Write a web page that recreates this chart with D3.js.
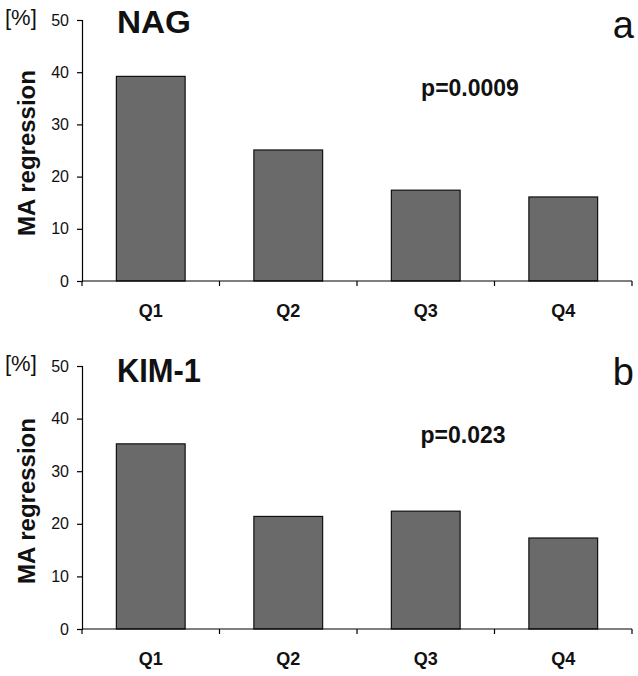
<!DOCTYPE html>
<html><head><meta charset="utf-8">
<script src="https://cdn.jsdelivr.net/npm/d3@7"></script>
<style>body{margin:0;background:#fff}svg{display:block}text{font-family:"Liberation Sans",Arial,sans-serif}</style>
</head><body>
<script>
const categories = ["Q1","Q2","Q3","Q4"];
const nagValues = [39.2, 25.1, 17.4, 16.1];
const kimValues = [35.2, 21.4, 22.4, 17.3];
const yTicks = [0,10,20,30,40,50];
const panels = [
  {title:"NAG", titleLen:74, titleSize:32, letter:"a", p:"p=0.0009", values:nagValues,
   top:20, bottom:281, pX:470, pY:96, titleY:33, letterY:38, pctY:25, labY:153},
  {title:"KIM-1", titleLen:84, titleSize:34, letter:"b", p:"p=0.023", values:kimValues,
   top:366, bottom:629, pX:463, pY:443, titleY:382, letterY:385, pctY:371, labY:501}
];
const W=638,H=676;
const svg=d3.select("body").append("svg").attr("width",W).attr("height",H);
const x=d3.scaleBand().domain(categories).range([82,632]).paddingInner(0.5).paddingOuter(0.25);
panels.forEach(pn=>{
  const g=svg.append("g");
  const y=d3.scaleLinear().domain([0,50]).range([pn.bottom,pn.top]);
  g.selectAll("rect").data(pn.values).join("rect")
    .attr("x",(d,i)=>x(categories[i])).attr("width",x.bandwidth())
    .attr("y",d=>y(d)).attr("height",d=>y(0)-y(d))
    .attr("fill","#6a6a6a").attr("stroke","#111").attr("stroke-width",1.2);
  const ya=g.append("g").attr("transform","translate(82,0)")
    .call(d3.axisLeft(y).tickValues(yTicks).tickSize(5).tickPadding(8));
  ya.select(".domain").attr("stroke","#000").attr("stroke-width",1.2);
  ya.selectAll(".tick line").attr("stroke-width",1.2);
  ya.selectAll("text").attr("font-size",16).attr("fill","#111").attr("font-family","Liberation Sans, Arial, sans-serif");
  const xa=g.append("g").attr("transform",`translate(0,${pn.bottom})`);
  xa.append("line").attr("x1",82).attr("x2",632).attr("stroke","#000").attr("stroke-width",1.2);
  const bounds=[82].concat(categories.map(c=>x(c)+x.bandwidth()+x.step()*0.25));
  xa.selectAll("line.t").data(bounds).join("line").attr("class","t")
    .attr("x1",d=>d).attr("x2",d=>d).attr("y1",0).attr("y2",5).attr("stroke","#000").attr("stroke-width",1.2);
  xa.selectAll("text").data(categories).join("text")
    .attr("x",d=>x(d)+x.bandwidth()/2).attr("y",36).attr("text-anchor","middle")
    .attr("font-size",18).attr("font-weight","bold").attr("fill","#111").text(d=>d);
  g.append("text").attr("x",5).attr("y",pn.pctY).attr("font-size",22).attr("fill","#111").text("[%]");
  g.append("text").attr("transform",`translate(35,${pn.labY}) rotate(-90)`)
    .attr("text-anchor","middle").attr("font-size",24).attr("font-weight","bold").attr("fill","#111").text("MA regression");
  g.append("text").attr("x",117).attr("y",pn.titleY).attr("font-size",pn.titleSize).attr("font-weight","bold")
    .attr("textLength",pn.titleLen).attr("lengthAdjust","spacingAndGlyphs").attr("fill","#111").text(pn.title);
  g.append("text").attr("x",634).attr("y",pn.letterY).attr("text-anchor","end").attr("font-size",38).attr("fill","#111").text(pn.letter);
  g.append("text").attr("x",pn.pX).attr("y",pn.pY).attr("text-anchor","middle").attr("font-size",23).attr("font-weight","bold").attr("fill","#111").text(pn.p);
});
</script>
</body></html>
